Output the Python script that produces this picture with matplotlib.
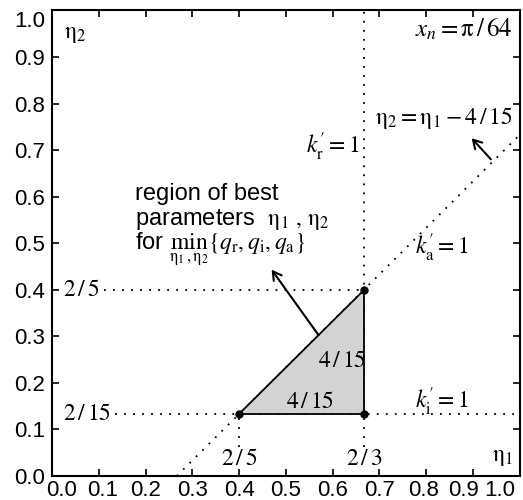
import numpy as np
import matplotlib
matplotlib.use('Agg')
import matplotlib.pyplot as plt
from matplotlib.patches import Polygon
from matplotlib.transforms import ScaledTranslation

plt.rcParams['font.family'] = ['Liberation Sans', 'DejaVu Sans']
plt.rcParams['mathtext.fontset'] = 'stix'

# key values of the region
eta1_lo, eta1_hi = 2/5, 2/3
eta2_lo, eta2_hi = 2/15, 2/5
shift = 4/15
tick_vals = np.round(np.arange(0, 1.01, 0.1), 1)

# triangle of best parameters
tri_x = [eta1_lo, eta1_hi, eta1_hi]
tri_y = [eta2_lo, eta2_lo, eta2_hi]

fig = plt.figure(figsize=(5.23, 5.0), dpi=100)
ax = fig.add_axes([0.0994, 0.048, 0.8946, 0.931])

dot = dict(color='black', lw=1.3, linestyle=(0, (1, 4)))

# dotted guide lines
ax.plot([0.112, eta1_hi], [eta2_hi, eta2_hi], **dot)
ax.plot([0.135, 1.0], [eta2_lo, eta2_lo], **dot)
ax.plot([eta1_hi, eta1_hi], [0.062, 1.0], **dot)
ax.plot([eta1_lo, eta1_lo], [0.062, eta2_lo], **dot)
ax.plot([shift, 1.0], [0.0, 1.0 - shift], **dot)

ax.add_patch(Polygon(list(zip(tri_x, tri_y)), closed=True, facecolor='#d3d3d3',
                     edgecolor='black', lw=1.3, zorder=3))
ax.plot(tri_x, tri_y, 'o', color='black', ms=5, zorder=4)

fs = 17
ax.text(0.024, eta2_hi, r'$2\,/\,5$', fontsize=fs, va='center', ha='left')
ax.text(0.024, eta2_lo, r'$2\,/\,15$', fontsize=fs, va='center', ha='left')
ax.text(eta1_lo, 0.036, r'$2\,/\,5$', fontsize=fs, va='center', ha='center')
ax.text(eta1_hi, 0.036, r'$2\,/\,3$', fontsize=fs, va='center', ha='center')
ax.text(0.62, 0.247, r'$4\,/\,15$', fontsize=fs, va='center', ha='center')
ax.text(0.551, 0.159, r'$4\,/\,15$', fontsize=fs, va='center', ha='center')

ax.text(0.025, 0.95, r'$\mathrm{\eta}_2$', fontsize=fs, va='center', ha='left')
ax.text(0.985, 0.04, r'$\mathrm{\eta}_1$', fontsize=fs, va='center', ha='right')
ax.text(0.985, 0.959, r'$x_n = \mathrm{\pi}\,/\,64$', fontsize=18, va='center', ha='right')

ax.text(0.657, 0.708, r'$k^{\prime}_{\mathrm{r}} = 1$', fontsize=fs, va='center', ha='right')
ax.text(0.776, 0.49, r'$k^{\prime}_{\mathrm{a}} = 1$', fontsize=fs, va='center', ha='left')
ax.text(0.776, 0.16, r'$k^{\prime}_{\mathrm{i}} = 1$', fontsize=fs, va='center', ha='left')
ax.text(0.69, 0.77, r'$\mathrm{\eta}_2 = \mathrm{\eta}_1 - 4\,/\,15$', fontsize=17,
        va='center', ha='left')

ax.text(0.177, 0.605, 'region of best', fontsize=17, va='center', ha='left')
ax.text(0.177, 0.551, r'parameters  $\mathrm{\eta}_1\ ,\,\mathrm{\eta}_2$', fontsize=17,
        va='center', ha='left')
ax.text(0.177, 0.485, r'for $\min_{\mathrm{\eta}_1,\mathrm{\eta}_2}\{q_{\mathrm{r}}, q_{\mathrm{i}}, q_{\mathrm{a}}\}$',
        fontsize=17, va='baseline', ha='left')

arr = dict(arrowstyle='->,head_length=0.6,head_width=0.35', color='black', lw=1.5)
ax.annotate('', xy=(0.466, 0.448), xytext=(0.573, 0.298), arrowprops=arr)
ax.annotate('', xy=(0.893, 0.730), xytext=(0.942, 0.676), arrowprops=arr)

ax.set_xlim(0, 1)
ax.set_ylim(0, 1)
ax.set_xticks(tick_vals)
ax.set_yticks(tick_vals)
ax.set_xticklabels([f'{v:.1f}' for v in tick_vals])
ax.set_yticklabels([f'{v:.1f}' for v in tick_vals])
ax.tick_params(direction='in', top=True, right=True, length=5, width=1.2,
               labelsize=16, pad=3)
ax.tick_params(axis='y', pad=5)
for s in ax.spines.values():
    s.set_linewidth(1.5)

# crowded end labels are nudged inwards, as in the original
x_nudge = [10, 4, 0, 0, 0, 0, 0, 0, -3, -10, -20]
for lab, dx in zip(ax.get_xticklabels(), x_nudge):
    lab.set_transform(lab.get_transform() + ScaledTranslation(dx / 100, 0, fig.dpi_scale_trans))
y_nudge = [0, 0, 0, 0, 0, 0, 0, 0, 0, 0, -9]
for lab, dy in zip(ax.get_yticklabels(), y_nudge):
    lab.set_transform(lab.get_transform() + ScaledTranslation(0, dy / 100, fig.dpi_scale_trans))

fig.savefig('out.png', dpi=100)
